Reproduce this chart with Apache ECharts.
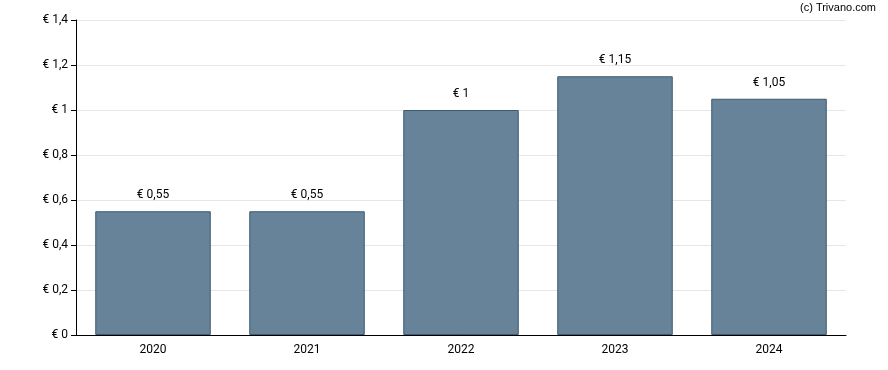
<!DOCTYPE html>
<html>
<head>
<meta charset="utf-8">
<script src="https://cdn.jsdelivr.net/npm/echarts@6/dist/echarts.min.js"></script>
<style>html,body{margin:0;padding:0;background:#fff}#c{width:888px;height:370px}</style>
</head>
<body>
<div id="c"></div>
<script>
const categories = ['2020', '2021', '2022', '2023', '2024'];
const values = [0.55, 0.55, 1, 1.15, 1.05];
const fmt = v => '€ ' + String(v).replace('.', ',');
const chart = echarts.init(document.getElementById('c'), null, {renderer: 'canvas'});
chart.setOption({
  animation: false,
  textStyle: {fontFamily: 'Roboto'},
  grid: {left: 76, right: 42, top: 20, bottom: 35, containLabel: false},
  graphic: [{type: 'text', right: 12, top: 2, style: {text: '(c) Trivano.com', font: '11px "Liberation Sans"', fill: '#000'}}],
  xAxis: {
    type: 'category', data: categories,
    axisLine: {lineStyle: {color: '#000', width: 1}},
    axisTick: {alignWithLabel: true, length: 5, lineStyle: {color: '#000'}},
    axisLabel: {color: '#000', fontSize: 12, margin: 9, fontFamily: 'Roboto'}
  },
  yAxis: {
    type: 'value', min: 0, max: 1.4, interval: 0.2,
    axisLine: {show: true, lineStyle: {color: '#000', width: 1}},
    axisTick: {show: true, length: 5, lineStyle: {color: '#000'}},
    splitLine: {lineStyle: {color: '#e6e6e6'}},
    axisLabel: {color: '#000', fontSize: 12, margin: 8, fontFamily: 'Roboto', formatter: v => fmt(Math.round(v * 10) / 10)}
  },
  series: [{
    type: 'bar', data: values, barWidth: '75%',
    itemStyle: {color: '#67839a', borderColor: '#3d5a6e', borderWidth: 1},
    label: {show: true, position: 'top', distance: 10, color: '#000', fontSize: 12, fontFamily: 'Roboto', formatter: p => fmt(p.value)}
  }]
});
</script>
</body>
</html>
